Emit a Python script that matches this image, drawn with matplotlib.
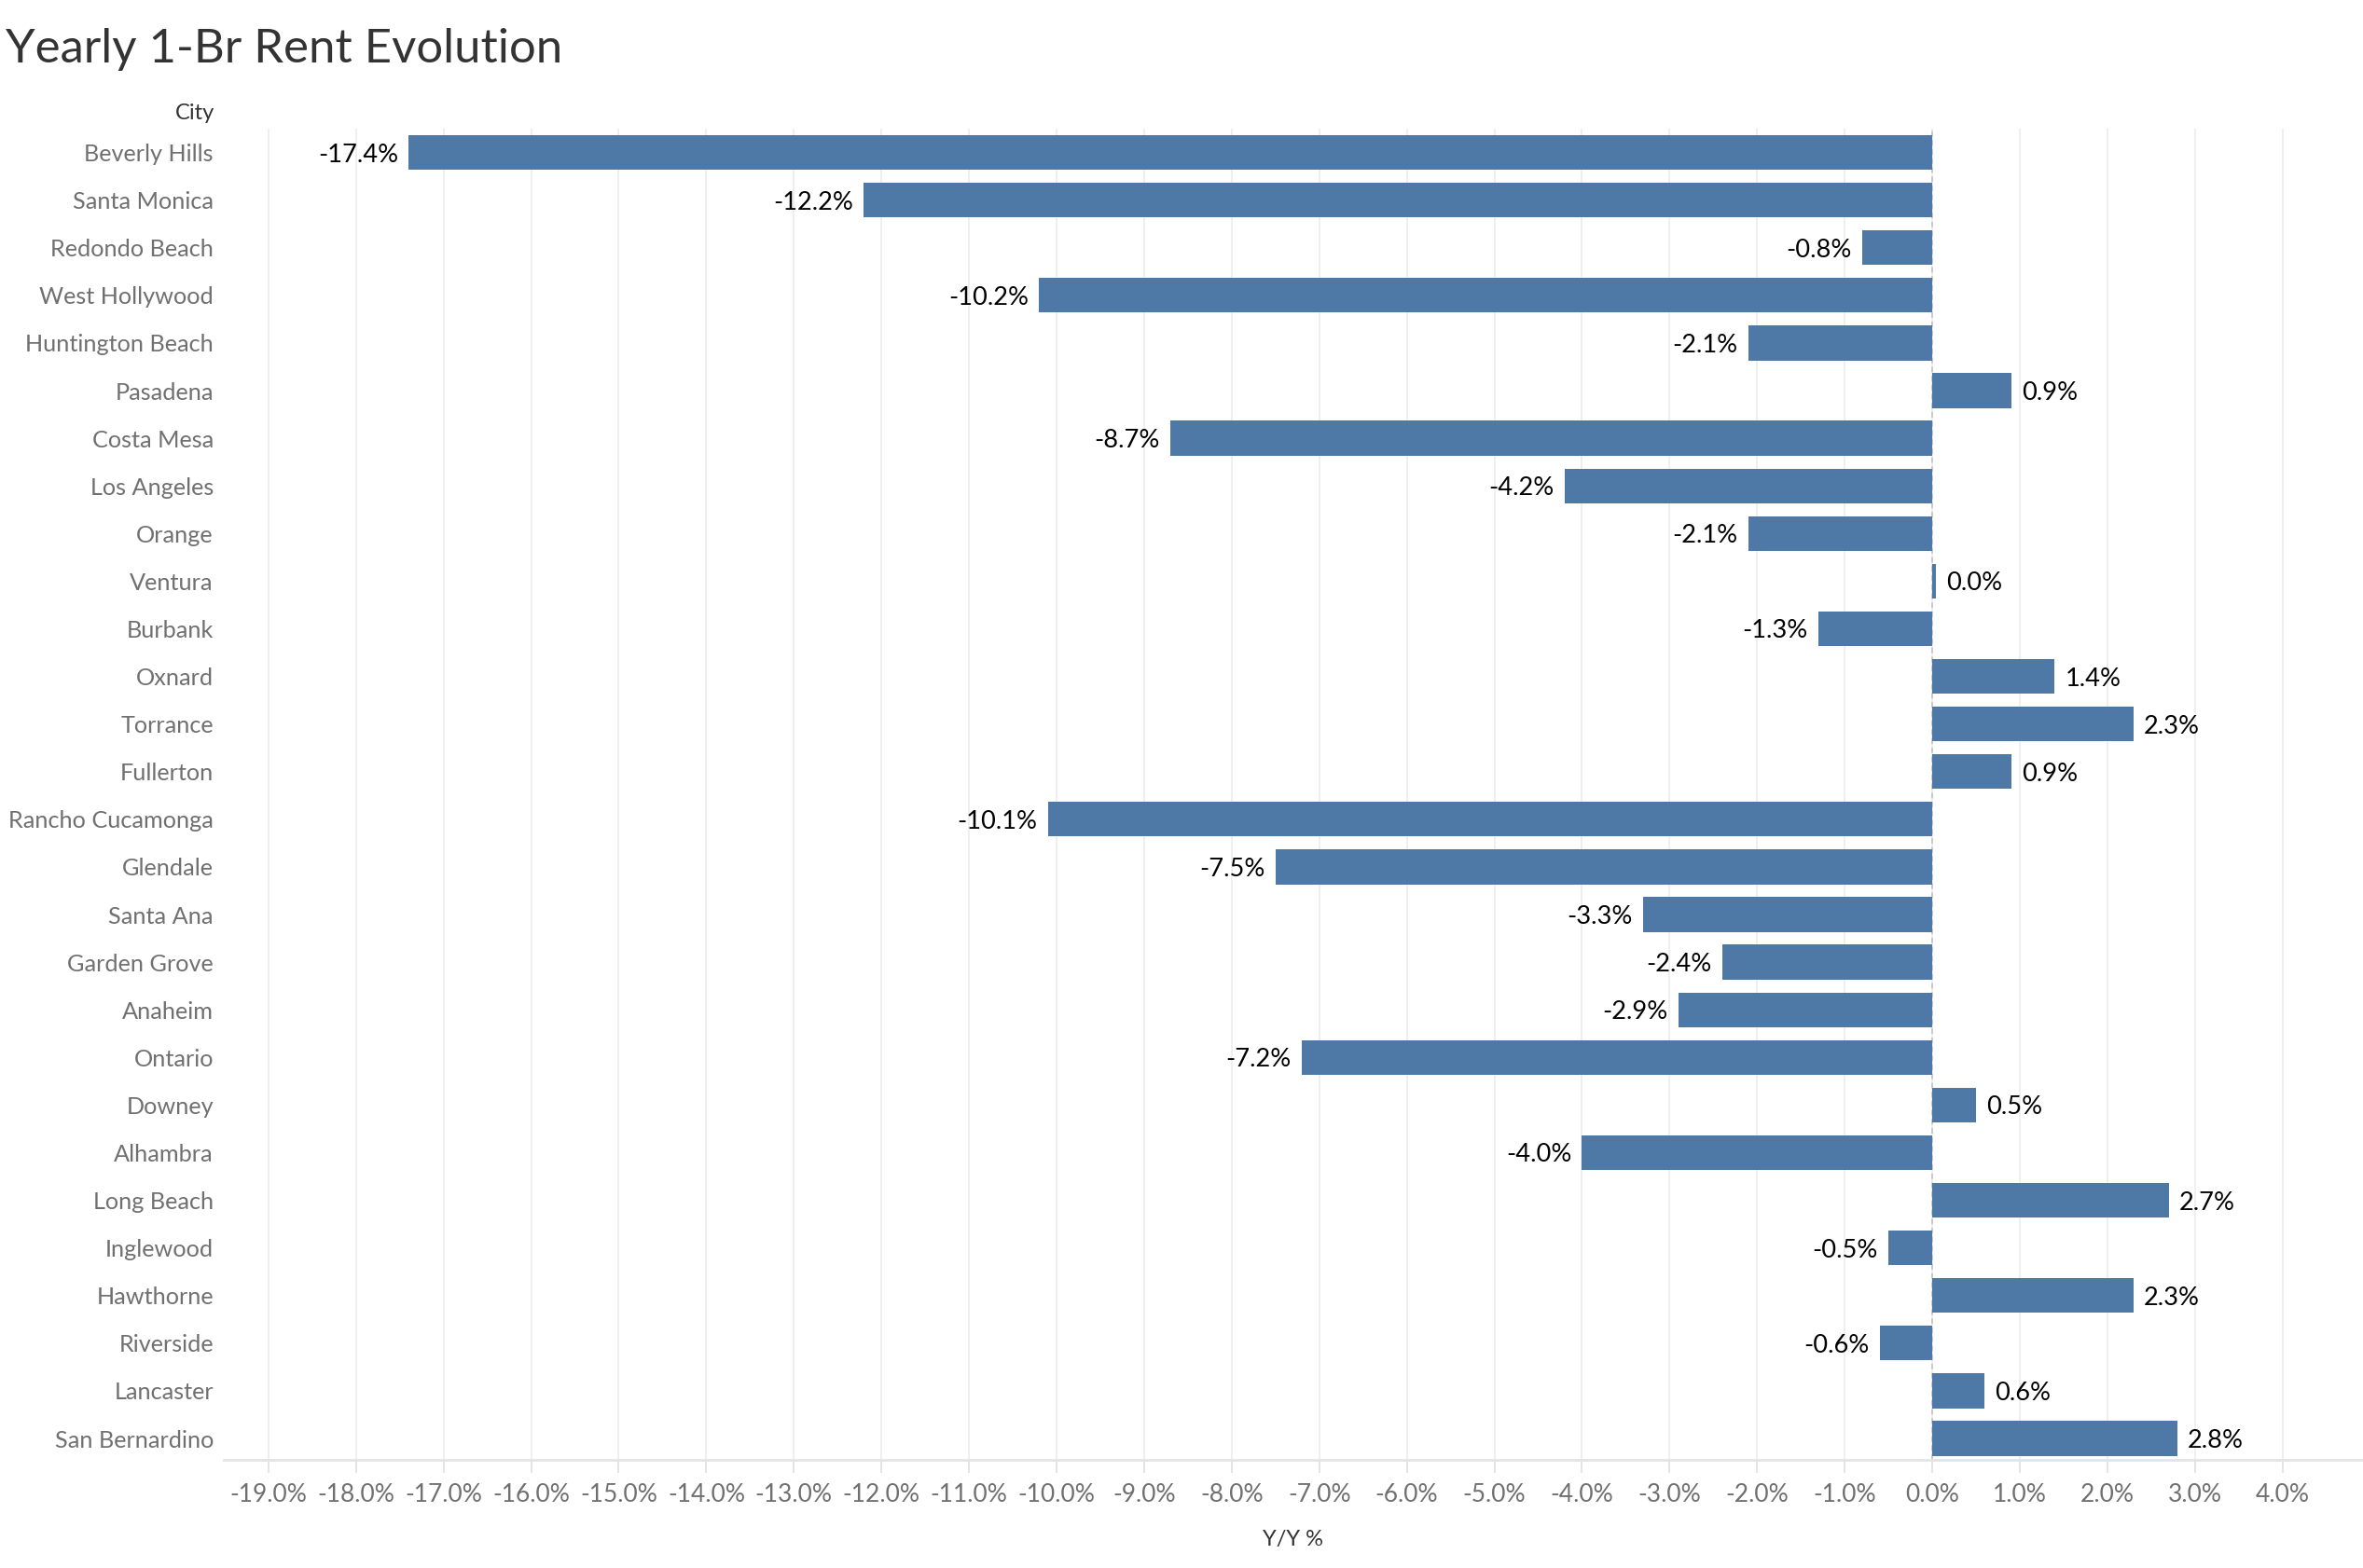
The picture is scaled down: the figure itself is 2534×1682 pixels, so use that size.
#!/usr/bin/env python

import matplotlib
matplotlib.use("Agg")
import matplotlib.pyplot as plt
import numpy as np

cities = ["Beverly Hills", "Santa Monica", "Redondo Beach", "West Hollywood",
          "Huntington Beach", "Pasadena", "Costa Mesa", "Los Angeles", "Orange",
          "Ventura", "Burbank", "Oxnard", "Torrance", "Fullerton",
          "Rancho Cucamonga", "Glendale", "Santa Ana", "Garden Grove", "Anaheim",
          "Ontario", "Downey", "Alhambra", "Long Beach", "Inglewood", "Hawthorne",
          "Riverside", "Lancaster", "San Bernardino"]
yoy = [-17.4, -12.2, -0.8, -10.2, -2.1, 0.9, -8.7, -4.2, -2.1,
       0.04, -1.3, 1.4, 2.3, 0.9, -10.1, -7.5, -3.3, -2.4, -2.9,
       -7.2, 0.5, -4.0, 2.7, -0.5, 2.3, -0.6, 0.6, 2.8]
xticks = list(range(-19, 5))

plt.rcParams['font.family'] = ['Lato', 'DejaVu Sans']

W, H, DPI = 2534, 1682, 200
fig = plt.figure(figsize=(W / DPI, H / DPI), dpi=DPI)
ax = fig.add_axes([240 / W, 1 - 1566 / H, 1 - 240 / W, (1566 - 138) / H])

y = np.arange(len(cities))
bars = ax.barh(y, yoy, height=0.73, color="#4e79a7", zorder=3)

for yi, v in zip(y, yoy):
    if v >= 0:
        ax.annotate(f"{v:.1f}%", (v, yi), xytext=(4, 0), textcoords="offset points",
                    ha="left", va="center_baseline", fontsize=9.8, color="black")
    else:
        ax.annotate(f"{v:.1f}%", (v, yi), xytext=(-4, 0), textcoords="offset points",
                    ha="right", va="center_baseline", fontsize=9.8, color="black")

# zero line
ax.axvline(0, color="#c8c8c8", linestyle=(0, (3, 2)), linewidth=0.7, zorder=2)

ax.set_xlim(-19.51, 4.92)
ax.set_ylim(len(cities) - 0.55, -0.5)
ax.set_xticks(xticks)
ax.set_xticklabels([f"{t:.1f}%" for t in xticks])
ax.set_yticks(y)
ax.set_yticklabels(cities)
ax.grid(axis="x", color="#efefef", linewidth=0.7, zorder=0)
ax.set_axisbelow(True)

for s in ["top", "right", "left"]:
    ax.spines[s].set_visible(False)
ax.spines["bottom"].set_color("#e4e4e4")
ax.spines["bottom"].set_linewidth(1.0)

ax.tick_params(axis="x", length=5, width=0.7, color="#e4e4e4",
               labelcolor="#707070", labelsize=9.5, pad=4)
ax.tick_params(axis="y", length=0, labelcolor="#707070", labelsize=9.1, pad=4)

ax.set_xlabel("Y/Y %", fontsize=8.5, color="#333333", labelpad=9)

fig.text(230 / W, 1 - 121 / H, "City", ha="right", va="center",
         fontsize=8.5, color="#333333")
fig.text(6 / W, 1 - 53 / H, "Yearly 1-Br Rent Evolution", ha="left", va="center",
         fontsize=18.3, color="#333333")

fig.savefig("out.png", dpi=DPI)
